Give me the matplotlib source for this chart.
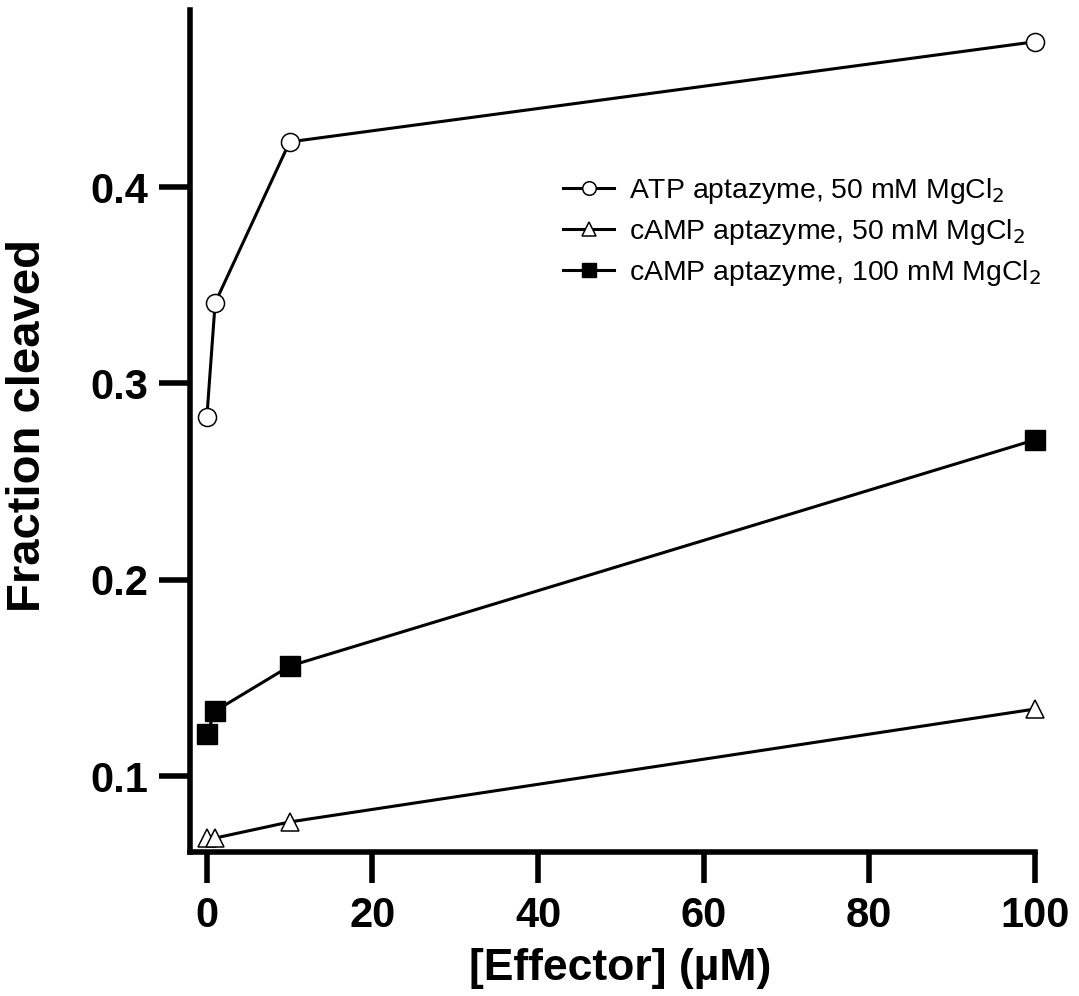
import numpy as np
import matplotlib
matplotlib.use('Agg')
import matplotlib.pyplot as plt

plt.rcParams['font.family'] = ['Liberation Sans', 'DejaVu Sans']

effector = [0, 1, 10, 100]
atp_50 = [0.283, 0.341, 0.423, 0.474]
camp_50 = [0.0684, 0.0684, 0.0766, 0.1341]
camp_100 = [0.1214, 0.1331, 0.1560, 0.2712]

x_ticks = [0, 20, 40, 60, 80, 100]
y_ticks = [0.1, 0.2, 0.3, 0.4]

fig = plt.figure(figsize=(10.79, 9.96), dpi=100)
ax = fig.add_axes([0.176, 0.1446, 0.783, 0.845])

ax.plot(effector, atp_50, color='black', lw=2.2, marker='o', ms=13,
        mfc='white', mec='black', mew=1.1, clip_on=False,
        label='ATP aptazyme, 50 mM MgCl$_2$')
ax.plot(effector, camp_50, color='black', lw=2.2, marker='^', ms=13,
        mfc='white', mec='black', mew=1.1, clip_on=False,
        label='cAMP aptazyme, 50 mM MgCl$_2$')
ax.plot(effector, camp_100, color='black', lw=2.2, marker='s', ms=14,
        mfc='black', mec='black', clip_on=False,
        label='cAMP aptazyme, 100 mM MgCl$_2$')

ax.set_xlim(-2.05, 100)
ax.set_ylim(0.0613, 0.49)
ax.set_xticks(x_ticks)
ax.set_yticks(y_ticks)
ax.set_yticklabels(['0.1', '0.2', '0.3', '0.4'])

for s in ['top', 'right']:
    ax.spines[s].set_visible(False)
for s in ['left', 'bottom']:
    ax.spines[s].set_linewidth(4)
ax.tick_params(direction='out', length=22, width=4, labelsize=30)
ax.tick_params(axis='x', pad=10)
ax.tick_params(axis='y', pad=8)
for lab in ax.get_xticklabels() + ax.get_yticklabels():
    lab.set_fontweight('bold')

ax.set_xlabel('[Effector] (\u00b5M)', fontsize=32, fontweight='bold', va='center')
ax.set_ylabel('Fraction cleaved', fontsize=34, fontweight='bold', va='center')
ax.xaxis.set_label_coords(0.509, -0.139)
ax.yaxis.set_label_coords(-0.192, 0.507)

leg = ax.legend(loc='upper left', bbox_to_anchor=(0.509, 0.838),
                bbox_transform=fig.transFigure, frameon=False,
                fontsize=20.4, handlelength=1.8, handletextpad=0.5,
                labelspacing=0.4, borderpad=0, markerscale=0.75)

fig.savefig('out.png', dpi=100)
